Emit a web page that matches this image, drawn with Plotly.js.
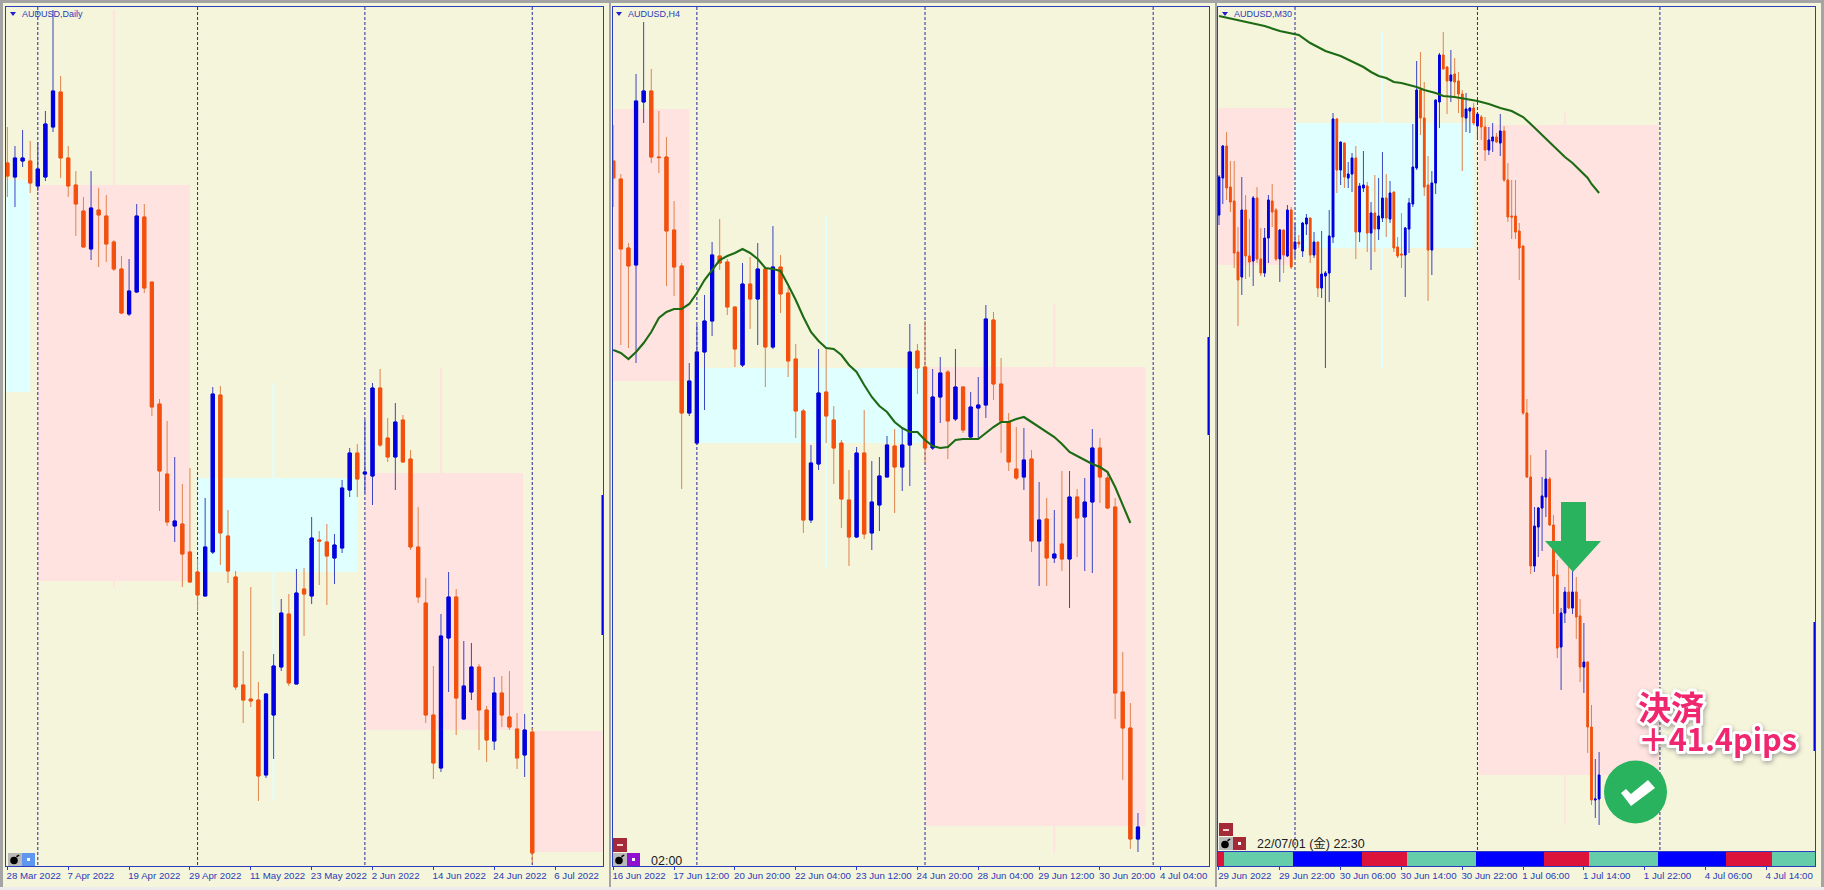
<!DOCTYPE html>
<html>
<head>
<meta charset="utf-8">
<script src="https://cdn.plot.ly/plotly-3.0.1.min.js"></script>
<style>html,body{margin:0;padding:0;background:#f5f5dc;overflow:hidden}</style>
</head>
<body>
<div id="chart" style="width:1824px;height:890px"></div>
<script>
// The picture shows no price scale, so every level is read as depth below the top of the window
// and drawn on a reversed value axis. U = rising candle (blue), D = falling candle (orange).

// Daily
const dirD = "DUUDUUUDDDDUDDDDUUDDDDUDDDUUDDDDDDUUUDUDUDDUUUDUUDDUDDDDDUUDUUDDUDDDUD".split("");
const bodyTopD = [163,158,158,161,169,124,91,92,158,185,211,208,210,216,242,269,291,216,217,282,404,474,521,524,552,572,547,394,395,536,577,685,699,700,694,666,613,614,593,589,538,540,542,545,488,453,453,472,388,388,438,422,420,459,547,603,715,636,597,597,686,667,667,710,693,693,717,729,730,732];
const bodyBotD = [176,177,161,183,186,177,127,158,186,204,247,249,215,244,269,313,314,292,288,407,471,522,526,554,582,595,596,552,533,571,687,700,701,776,775,715,667,683,684,594,596,541,556,558,548,490,479,474,476,445,457,457,462,547,597,715,763,768,638,698,719,692,710,740,741,715,727,758,755,853];
const wickTopD = [127,146,130,141,142,111,10,76,146,171,197,171,188,195,240,256,259,204,204,282,399,421,457,484,468,559,498,387,386,510,571,651,587,682,693,654,599,594,569,568,517,531,524,534,480,448,444,420,383,369,418,403,415,450,507,578,666,614,572,589,641,643,664,706,677,676,671,713,714,728];
const wickBotD = [197,207,167,193,191,181,132,178,197,236,247,260,267,262,271,314,316,293,293,416,511,526,542,587,582,611,596,554,565,583,690,723,707,801,778,759,671,686,684,636,604,585,605,584,553,497,497,493,505,447,462,490,462,550,603,723,779,772,692,735,720,700,750,762,750,727,730,769,777,863];
const tickTextD = ["28 Mar 2022","7 Apr 2022","19 Apr 2022","29 Apr 2022","11 May 2022","23 May 2022","2 Jun 2022","14 Jun 2022","24 Jun 2022","6 Jul 2022"];
const tickBarsD = [0,8,16,24,32,40,48,56,64,72];
const sessionD = [4,25,47,69];
const zoneFromD = [-0.2,4,25,47,69];
const zoneToD = [3,24,46,67.8,79];
const zoneTopD = [180,185,478,473,731];
const zoneBotD = [392,581,572,730,852];
const zoneKindD = ["cyan","pink","cyan","pink","pink"];
const paleBarD = [14,35,57];
const paleTopD = [10,383,368];
const paleBotD = [587,800,475];
const paleKindD = ["pink","cyan","pink"];
const edgeD = [495,635];

// H4
const dirH = "DDDUUDDDDDUUUUDDDUDUDUDDDDUUDDDDUDUUUDUUDDUUDUDUUUDDDDUDUDUDUDUUDDDDDU".split("");
const bodyTopH = [161,179,248,101,91,91,157,157,230,266,381,352,321,255,256,262,307,284,284,269,269,267,267,293,359,411,463,393,392,420,443,500,453,453,502,476,445,446,445,352,351,367,397,373,372,387,387,407,405,319,320,384,422,469,460,459,520,519,554,544,497,497,502,448,448,478,507,692,728,827];
const bodyBotH = [178,249,266,265,102,157,157.6,231,267,413,413,443,352,321,263,307,349,365,299,299,347,347,294,361,411,520,520,464,416,448,499,537,537,534,533,505,477,467,467,445,368,448,448,397,421,419,430,437,408,405,384,421,462,478,477,541,541,558,558,559,559,518,517,502,477,508,693,728,839,839];
const wickTopH = [125,174,243,74,22,69,111,137,201,263,363,325,295,242,219,259,307,263,257,243,267,226,255,287,344,409,445,349,349,406,440,470,447,410,461,457,436,429,428,324,344,321,369,357,370,349,386,392,377,305,312,358,413,427,428,450,482,498,510,471,471,489,478,429,438,472,498,652,703,813];
const wickBotH = [207,345,348,363,123,163,173,286,296,489,416,445,410,336,270,315,367,367,329,345,387,349,313,377,438,533,523,470,443,484,528,566,538,539,550,531,477,513,491,486,394,463,450,423,459,421,433,438,438,418,400,453,471,480,490,552,586,586,563,571,608,557,571,573,503,509,719,780,849,852];
const maH = [350,353,359,352,343,332,318,312,309,309,304,293,280,270,260,256,253,249,253,259,268,269,271,285,300,317,332,341,348,349,355,365,372,385,397,406,412,422,428,432,432,440,446,448,447,440,439,439,439,433,427,422,422,419,417,422,427,432,437,444,452,456,460,464,467,472,487,505,523];
const tickTextH = ["16 Jun 2022","17 Jun 12:00","20 Jun 20:00","22 Jun 04:00","23 Jun 12:00","24 Jun 20:00","28 Jun 04:00","29 Jun 12:00","30 Jun 20:00","4 Jul 04:00"];
const tickBarsH = [0,8,16,24,32,40,48,56,64,72];
const sessionH = [11,41,71];
const zoneFromH = [0,11,41];
const zoneToH = [10,41,70];
const zoneTopH = [109,368,367];
const zoneBotH = [381,443,826];
const zoneKindH = ["pink","cyan","pink"];
const paleBarH = [28,58];
const paleTopH = [217,304];
const paleBotH = [567,853];
const paleKindH = ["cyan","pink"];
const edgeH = [337,435];

// M30
const dirM = "UUDDDDUDDUDDUUDDUDUDUDUUDUDUUUUDUDUUDUUDUDUUDUDDDUUUUDDDUUUDDUDDDUUDUDDUUDUDDDDDDDDUUUUDDDUUDUDDUDDUU".split("");
const bodyTopM = [177,146,146,187,201,252,210,210,256,198,198,259,238,200,201,210,230,230,210,210,242,242,223,218,218,242,242,274,273,236,119,119,142,143,174,158,158,186,185,186,213,213,216,198,198,193,192,247,254,228,203,167,90,90,118,185,183,100,55,55,67,75,74,81,94,109,108,108,114,117,127,140,137,137,131,131,180,216,216,231,246,413,477,526,508,496,479,479,525,575,613,592,592,592,592,616,662,662,727,799,775];
const bodyBotM = [215,178,188,202,253,280,277,256,262,261,259,273,273,238,212,259,259,255,256,267,249,244,251,224,255,255,288,288,276,273,237,170,170,177,178,174,232,232,188,233,233,229,229,218,218,219,248,256,255,255,229,204,168,118,187,250,250,183,102,69,81,81,82,94,117,118,111,123,126,127,150,150,141,142,143,180,217,217,232,248,413,477,566,566,527,508,497,525,576,648,647,613,608,608,617,667,667,727,800,800,799];
const wickTopM = [175,145,132,161,161,227,177,195,219,196,187,228,228,195,184,208,229,230,205,207,223,235,222,214,218,232,242,231,271,210,113,118,142,143,162,153,146,183,151,182,202,175,178,152,174,181,192,237,213,227,198,124,61,52,82,156,171,100,53,32,66,50,58,72,90,93,108,103,113,115,117,127,123,133,114,126,163,180,180,223,246,399,455,507,507,477,450,477,515,560,608,587,563,570,577,599,623,662,705,759,752];
const wickBotM = [225,204,200,212,268,326,295,279,277,286,263,276,277,263,227,261,282,273,257,269,258,248,257,235,263,258,297,298,368,302,243,193,185,188,188,192,259,242,192,252,270,252,240,222,237,223,252,258,268,297,253,207,170,135,196,301,275,194,128,69,114,102,98,113,171,132,133,125,139,140,161,155,152,143,156,182,222,239,239,280,415,478,574,572,557,551,517,526,614,658,690,623,609,614,639,682,693,753,805,818,825];
const maBarsM = [0,5,8,12,16,20,21,24,28,32,36,38,40,42,44,46,48,50,52,54,57,59,62,65,68,71,74,77,80,82,85,88,91,93,95,97,98,100];
const maM = [16,20,23,26,31,34,35,43,51,56,63,67,72,76,78,82,83,85,87,90,93,96,97,99,101,104,108,111,117,124,135,147,157,163,171,178,184,193];
const tickTextM = ["29 Jun 2022","29 Jun 22:00","30 Jun 06:00","30 Jun 14:00","30 Jun 22:00","1 Jul 06:00","1 Jul 14:00","1 Jul 22:00","4 Jul 06:00","4 Jul 14:00"];
const tickBarsM = [0,16,32,48,64,80,96,112,128,144];
const sessionM = [20,68,116];
const zoneFromM = [-0.3,20,68.3];
const zoneToM = [19.6,67,115.7];
const zoneTopM = [108,123,125];
const zoneBotM = [265,248,775];
const zoneKindM = ["pink","cyan","pink"];
const paleBarM = [43,91];
const paleTopM = [32,112];
const paleBotM = [368,825];
const paleKindM = ["cyan","pink"];
const edgeM = [622,751];

// M30 session strip
const stripStart = [-0.3,1.4,19.4,37.5,49.4,67.5,85.5,97.4,115.5,133.5,145.4];
const stripEnd = [1.4,19.4,37.5,49.4,67.5,85.5,97.4,115.5,133.5,145.4,156.8];
const stripKind = ["red","green","blue","red","green","blue","red","green","blue","red","green"];

const titles = ["AUDUSD,Daily","AUDUSD,H4","AUDUSD,M30"];
const clockH = "02:00";
const clockM = "22/07/01 (金) 22:30";
const noteLabel = "決済";
const noteResult = "＋41.4pips";

const W = 1824, H = 890;
const C = {bg:"#f5f5dc", pink:"#ffe3e0", cyan:"#e0ffff", axis:"#2b3dbf", dash:"#26269c",
  up:"#0000e0", upWick:"#3a44c4", dn:"#f4500e", dnWick:"#e0834a", ma:"#1c6b14",
  red:"#dc143c", green:"#66cdaa", blue:"#0000ff", mark:"#29b35f", note:"#f0266f",
  label:"#2a3bb8", chrome:"#a4a4a4"};
const px = x => x / W, py = y => 1 - y / H;

// Two layers per panel: thin wicks in the paler tone, then solid bodies over them.
function candles(dir, top, bot, wt, wb, xa, ya) {
  const open = dir.map((d,i) => d === "U" ? bot[i] : top[i]);
  const close = dir.map((d,i) => d === "U" ? top[i] : bot[i]);
  const x = dir.map((d,i) => i);
  const base = {type:"candlestick", x, open, close, xaxis:xa, yaxis:ya, whiskerwidth:0, hoverinfo:"skip", showlegend:false};
  // depth grows downward, so a value "increase" on this axis is a falling candle
  return [
    Object.assign({}, base, {high:wt, low:wb,
      increasing:{line:{color:C.dnWick,width:1}, fillcolor:C.dn},
      decreasing:{line:{color:C.upWick,width:1}, fillcolor:C.up}}),
    Object.assign({}, base, {high:top, low:bot,
      increasing:{line:{color:C.dn,width:1}, fillcolor:C.dn},
      decreasing:{line:{color:C.up,width:1}, fillcolor:C.up}})
  ];
}
function average(x, y, xa, ya) {
  return {type:"scatter", mode:"lines", x, y, xaxis:xa, yaxis:ya, hoverinfo:"skip", showlegend:false,
    line:{color:C.ma,width:2.1,shape:"linear"}};
}
const traces = [].concat(
  candles(dirD,bodyTopD,bodyBotD,wickTopD,wickBotD,"x","y"),
  candles(dirH,bodyTopH,bodyBotH,wickTopH,wickBotH,"x2","y2"),
  [average(dirH.map((d,i)=>i).slice(0,maH.length),maH,"x2","y2")],
  candles(dirM,bodyTopM,bodyBotM,wickTopM,wickBotM,"x3","y3"),
  [average(maBarsM,maM,"x3","y3")],
  [{type:"bar", orientation:"h", y:stripStart.map(()=>0), base:stripStart,
   x:stripEnd.map((e,i)=>e-stripStart[i]), xaxis:"x4", yaxis:"y4", width:1, hoverinfo:"skip", showlegend:false,
   marker:{color:stripKind.map(k=>C[k]), line:{width:0}}}]
);

const shapes = [];
function zones(xa, ya, from, to, top, bot, kind) {
  from.forEach((f,i) => shapes.push({type:"rect", xref:xa, yref:ya, x0:f, x1:to[i], y0:top[i], y1:bot[i],
    fillcolor:C[kind[i]], line:{width:0}, layer:"below"}));
}
function pales(xa, ya, bar, top, bot, kind) {
  bar.forEach((b,i) => shapes.push({type:"line", xref:xa, yref:ya, x0:b, x1:b, y0:top[i], y1:bot[i],
    line:{color:C[kind[i]],width:2}, layer:"below"}));
}
function sessions(xa, ya, bars, top, bot) {
  bars.forEach(b => shapes.push({type:"line", xref:xa, yref:ya, x0:b, x1:b, y0:top, y1:bot,
    line:{color:C.dash,width:1,dash:"3px,2px"}, layer:"below"}));
}
const rangeD=[-0.18,78.3], rangeH=[-0.03,78.34], rangeM=[-0.26,156.8];
zones("x","y",zoneFromD,zoneToD,zoneTopD,zoneBotD,zoneKindD);
pales("x","y",paleBarD,paleTopD,paleBotD,paleKindD);
sessions("x","y",sessionD,7,866);
zones("x2","y2",zoneFromH,zoneToH,zoneTopH,zoneBotH,zoneKindH);
pales("x2","y2",paleBarH,paleTopH,paleBotH,paleKindH);
sessions("x2","y2",sessionH,7,866);
zones("x3","y3",zoneFromM,zoneToM,zoneTopM,zoneBotM,zoneKindM);
pales("x3","y3",paleBarM,paleTopM,paleBotM,paleKindM);
sessions("x3","y3",sessionM,7,851);
[["x","y",rangeD[1],edgeD],["x2","y2",rangeH[1],edgeH],["x3","y3",rangeM[1],edgeM]].forEach(e =>
  shapes.push({type:"line",xref:e[0],yref:e[1],x0:e[2],x1:e[2],y0:e[3][0],y1:e[3][1],line:{color:C.up,width:3},layer:"above"}));

function box(x0,y0,x1,y1,fill,layer) {
  shapes.push({type:"rect",xref:"paper",yref:"paper",x0:px(x0),x1:px(x1),y0:py(y1),y1:py(y0),
    fillcolor:fill,line:{width:0},layer:layer||"above"});
}
function poly(pts,fill) {
  const path = "M" + pts.map(p => px(p[0]) + "," + py(p[1])).join(" L") + " Z";
  shapes.push({type:"path",xref:"paper",yref:"paper",path,fillcolor:fill,line:{width:0},layer:"above"});
}
function disc(cx,cy,rx,ry,fill) {
  shapes.push({type:"circle",xref:"paper",yref:"paper",x0:px(cx-rx),x1:px(cx+rx),y0:py(cy+ry),y1:py(cy-ry),
    fillcolor:fill,line:{width:0},layer:"above"});
}
// window chrome
box(0,0,W,3,C.chrome); box(0,0,3,H,C.chrome); box(609,0,611,H,C.chrome); box(1215,0,1217,H,C.chrome);
box(W-3,0,W,H,C.chrome); box(0,887,W,H,"#ececec");
// title arrows
[10,616,1222].forEach(x => poly([[x,12],[x+6,12],[x+3,16]],"#2020c8"));
// bottom-left buttons
function bomb(x,y){ box(x,y,x+14,y+13,"#b9b9b9"); disc(x+6,y+7.5,3.8,3.8,"#000"); poly([[x+8,y+3],[x+11,y+1.5],[x+11.5,y+2.5],[x+9,y+4.5]],"#000"); }
function button(x,y,w,fill){ box(x,y,x+w,y+13,fill); box(x+w/2-1.5,y+5,x+w/2+1.5,y+8,"#fff"); }
bomb(8,853); button(22,853,13,"#5f96f0");
box(613,838,627,852,"#a52a38"); box(617,844,623,846,"#f4d0d0");
bomb(613,853); button(627,853,13,"#9012d0");
box(1219,823,1233,836,"#a52a38"); box(1223,829,1229,831,"#f4d0d0");
bomb(1219,837); button(1233,837,13,"#a52a38");
// trade marks drawn over the M30 chart
poly([[1561,502],[1586,502],[1586,541],[1601,541],[1573,572],[1545,541],[1561,541]],C.mark);
disc(1635.5,792,31.5,31.5,C.mark);
poly([[1621,793],[1626,789],[1631,794],[1648,780],[1655,788],[1631,806]],"#fff");

const common = {showgrid:false, zeroline:false, fixedrange:true};
function xAxis(dom, range, vals, text, anchor, labels) {
  return Object.assign({}, common, {type:"linear", domain:[px(dom[0]),px(dom[1])], range, anchor,
    rangeslider:{visible:false}, tickmode:"array", tickvals:vals, ticktext:text,
    ticks:labels?"outside":"", ticklen:3, tickwidth:1, tickcolor:C.axis,
    showticklabels:labels, ticklabelposition:"outside right", ticklabelshift:-2,
    tickfont:{family:"Liberation Sans",size:9.7,color:C.label}, tickangle:0,
    showline:true, linecolor:C.axis, linewidth:1.3, mirror:true});
}
function yAxis(dom, range, anchor) {
  return Object.assign({}, common, {domain:[py(dom[1]),py(dom[0])], range, anchor,
    showticklabels:false, ticks:"", showline:true, linecolor:C.axis, linewidth:1.3, mirror:true});
}
function text(x,y,str,font,anchor) {
  return {xref:"paper",yref:"paper",x:px(x),y:py(y),text:str,showarrow:false,xanchor:anchor||"left",yanchor:"middle",
    align:"left",font,bgcolor:"rgba(0,0,0,0)",borderpad:0,borderwidth:0};
}
const titleFont = {family:"Liberation Sans",size:9,color:C.label};
const clockFont = {family:"Liberation Sans, Noto Sans CJK JP",size:12.5,color:"#202020"};
const noteFont = {family:"Noto Sans CJK JP",size:30.7,color:C.note,weight:700};

const layout = {
  width:W, height:H, autosize:false, margin:{l:0,r:0,t:0,b:0,pad:0},
  paper_bgcolor:C.bg, plot_bgcolor:C.bg, showlegend:false, boxgap:0.4, boxmode:"overlay", barmode:"overlay", bargap:0,
  xaxis: xAxis([6,603],rangeD,tickBarsD,tickTextD,"y",true),
  yaxis: yAxis([7,866],[866,7],"x"),
  xaxis2:xAxis([613,1209],rangeH,tickBarsH,tickTextH,"y2",true),
  yaxis2:yAxis([7,866],[866,7],"x2"),
  xaxis3:xAxis([1218,1815],rangeM,tickBarsM,tickTextM,"y3",false),
  yaxis3:yAxis([7,851],[851,7],"x3"),
  xaxis4:xAxis([1218,1815],rangeM,tickBarsM,tickTextM,"y4",true),
  yaxis4:yAxis([852,866],[-0.5,0.5],"x4"),
  shapes,
  annotations:[
    text(22,14,titles[0],titleFont), text(628,14,titles[1],titleFont), text(1233.5,14,titles[2],titleFont),
    text(651,861,clockH,clockFont), text(1257,844,clockM,clockFont),
    text(1638,725,'<span style="font-size:33px">'+noteLabel+'</span><br>'+noteResult,noteFont)
  ]
};
Plotly.newPlot("chart", traces, layout, {staticPlot:true, displayModeBar:false}).then(gd => {
  // White sticker outline and tighter line spacing of the note, as in the picture
  gd.querySelectorAll(".annotation-text").forEach(t => {
    if (t.textContent.indexOf(noteLabel) < 0) return;
    t.style.stroke = "#ffffff";
    t.style.strokeWidth = "6px";
    t.style.strokeLinejoin = "round";
    t.style.paintOrder = "stroke";
    t.style.filter = "drop-shadow(1px 2px 2px rgba(90,90,90,.5))";
    const lines = t.querySelectorAll("tspan.line");
    if (lines.length > 1) lines[1].setAttribute("dy", "1.02em");
  });
});
</script>
</body>
</html>
